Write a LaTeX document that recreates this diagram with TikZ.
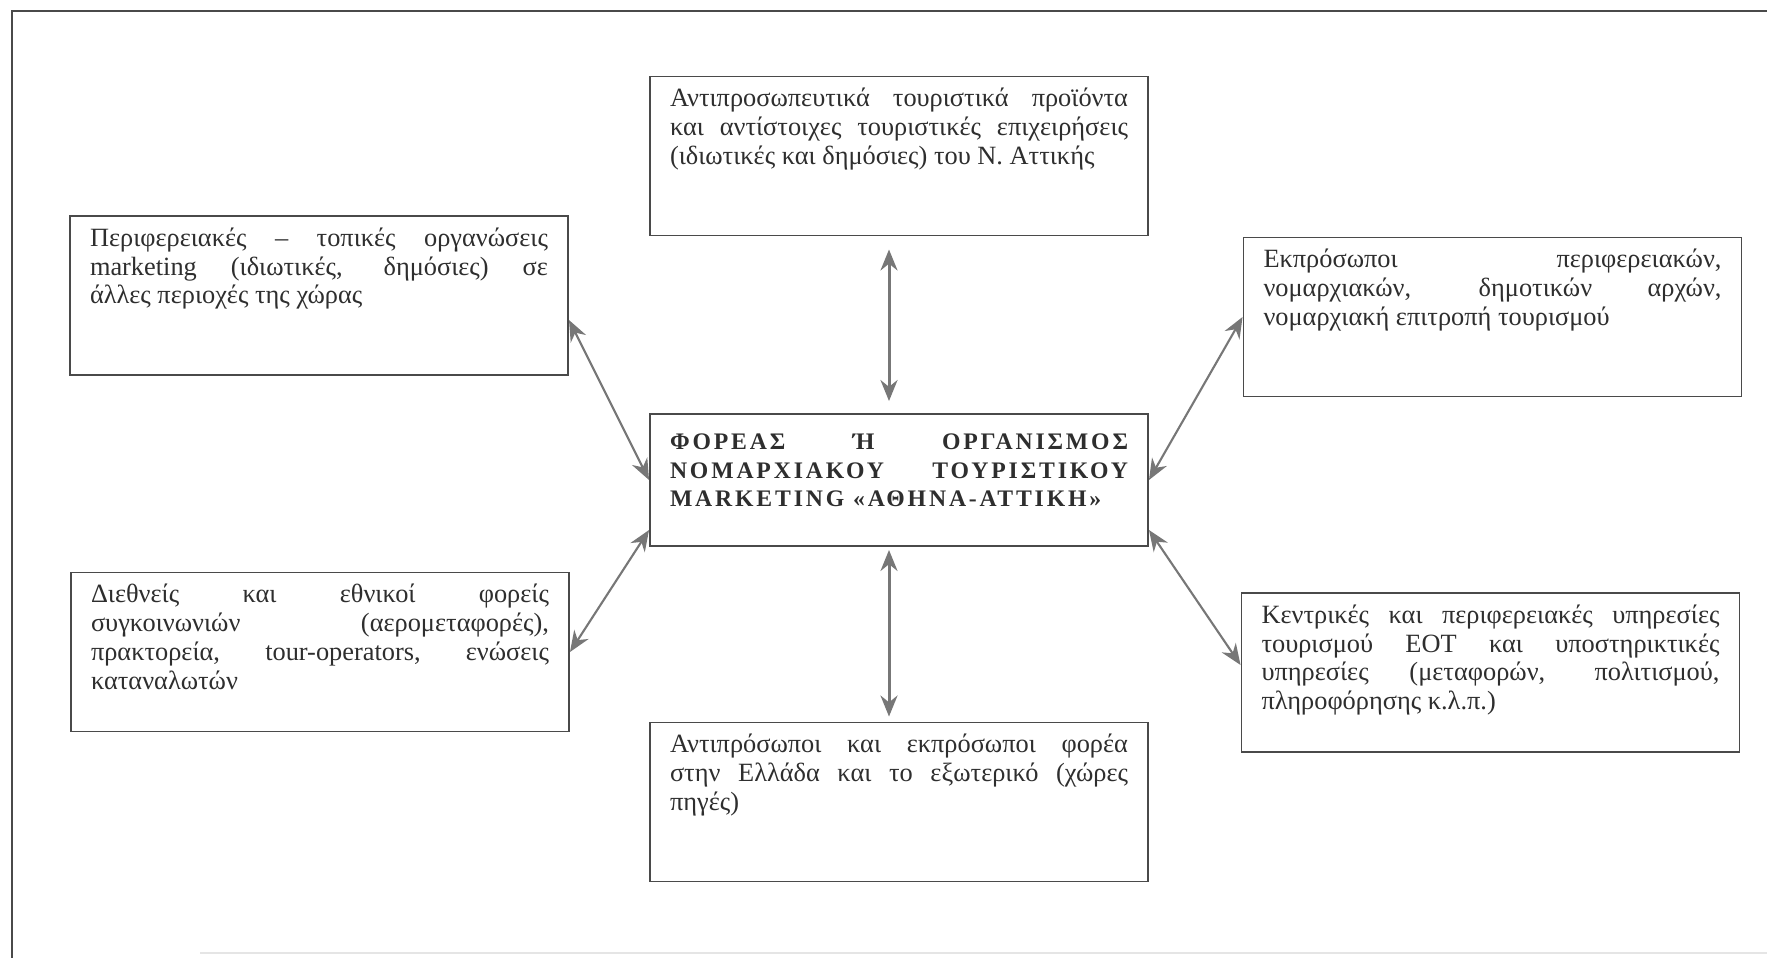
\documentclass[tikz,border=0pt]{standalone}
\usepackage{fontspec}
\setmainfont{Liberation Serif}
\usepackage{tikz}
\usetikzlibrary{arrows.meta, positioning, calc}
\definecolor{boxGray}{HTML}{4A4A4A}
\definecolor{arrowGray}{HTML}{777777}
\definecolor{inkGray}{HTML}{2E2E2E}
\newcommand{\jl}[1]{\makebox[\linewidth][s]{#1}\par}
\newcommand{\boxtxt}[2][2.78cm]{\parbox[c][#1][t]{9.16cm}{\strut#2}}

\begin{document}
\begin{tikzpicture}[
        box/.style={draw=boxGray, line width=1.1pt, inner xsep=0.4cm, inner ysep=0.2cm,
                    font=\fontsize{15}{16.4}\selectfont, text=inkGray},
        twoway/.style={{Stealth[length=0.42cm, width=0.34cm]}-{Stealth[length=0.42cm, width=0.34cm]},
                    draw=arrowGray, line width=1.2pt}
      ]
      \useasboundingbox (0,0) rectangle (35.34,-19.16);
      \draw[boxGray, line width=1.1pt] (35.34,-0.22) -- (0.24,-0.22) -- (0.24,-19.16);
      \draw[gray!20, line width=0.8pt] (4,-19.06) -- (35.34,-19.06);

      \node[box] (prod) at (17.98,-3.12) {\boxtxt{\jl{Αντιπροσωπευτικά τουριστικά προϊόντα}\jl{και αντίστοιχες τουριστικές επιχειρήσεις}(ιδιωτικές και δημόσιες) του Ν. Αττικής}};
      \node[box] (regional) at (6.38,-5.91) {\boxtxt{\jl{Περιφερειακές – τοπικές οργανώσεις}\jl{marketing (ιδιωτικές, δημόσιες) σε}άλλες περιοχές της χώρας}};
      \node[box] (officials) at (29.85,-6.34) {\boxtxt{\jl{Εκπρόσωποι περιφερειακών,}\jl{νομαρχιακών, δημοτικών αρχών,}νομαρχιακή επιτροπή τουρισμού}};
      \node[box, inner ysep=0.3cm, font=\fontsize{13.5}{16.4}\selectfont\bfseries\addfontfeatures{LetterSpace=12}] (hub) at (17.98,-9.60)
        {\boxtxt[2.04cm]{\jl{ΦΟΡΕΑΣ Ή ΟΡΓΑΝΙΣΜΟΣ}\jl{ΝΟΜΑΡΧΙΑΚΟΥ ΤΟΥΡΙΣΤΙΚΟΥ}MARKETING «ΑΘΗΝΑ-ΑΤΤΙΚΗ»}};
      \node[box] (transport) at (6.40,-13.04) {\boxtxt{\jl{Διεθνείς και εθνικοί φορείς}\jl{συγκοινωνιών (αερομεταφορές),}\jl{πρακτορεία, tour-operators, ενώσεις}καταναλωτών}};
      \node[box] (services) at (29.81,-13.45) {\boxtxt{\jl{Κεντρικές και περιφερειακές υπηρεσίες}\jl{τουρισμού ΕΟΤ και υποστηρικτικές}\jl{υπηρεσίες (μεταφορών, πολιτισμού,}πληροφόρησης κ.λ.π.)}};
      \node[box] (agents) at (17.98,-16.04) {\boxtxt{\jl{Αντιπρόσωποι και εκπρόσωποι φορέα}\jl{στην Ελλάδα και το εξωτερικό (χώρες}πηγές)}};

      \draw[twoway, line width=1.7pt, shorten <=0.26cm, shorten >=0.24cm]
        ([xshift=-0.2cm]prod.south) -- ([xshift=-0.2cm]hub.north);
      \draw[twoway, line width=1.7pt, shorten <=0.06cm, shorten >=0.1cm]
        ([xshift=-0.2cm]hub.south) -- ([xshift=-0.2cm]agents.north);
      \draw[twoway] ([yshift=-0.49cm]regional.east) -- (hub.west);
      \draw[twoway] (transport.east) -- ([yshift=-1cm]hub.west);
      \draw[twoway] (officials.west) -- (hub.east);
      \draw[twoway] ([yshift=0.15cm]services.west) -- ([yshift=-1cm]hub.east);
    \end{tikzpicture}
\end{document}
